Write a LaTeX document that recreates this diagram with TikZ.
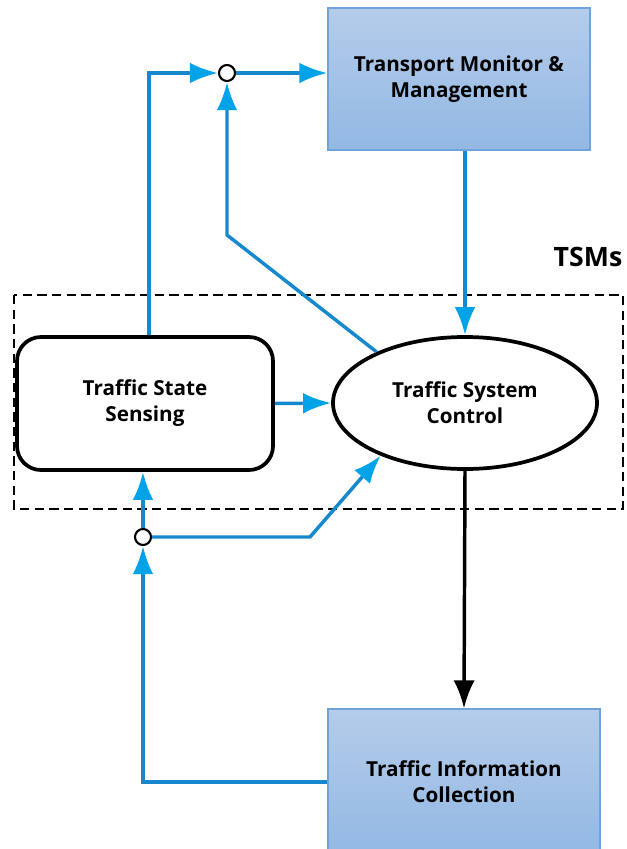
\documentclass[tikz,border=0pt]{standalone}
\usepackage[rgb]{xcolor}
\usepackage{fontspec}
\setmainfont{Open Sans}
\usetikzlibrary{arrows.meta, shapes.geometric}

\definecolor{linkblue}{RGB}{22,136,205}
\definecolor{tipblue}{RGB}{0,163,232}
\definecolor{boxtop}{RGB}{181,204,234}
\definecolor{boxbottom}{RGB}{146,184,227}
\definecolor{boxline}{RGB}{112,163,218}

\tikzset{
  bluebox/.style = {draw = boxline, line width = 1pt,
    top color = boxtop, bottom color = boxbottom,
    align = center, font = \bfseries\fontsize{15.5}{19.5}\selectfont},
  link/.style = {draw = linkblue, line width = 2.6pt,
    -{Latex[length = 21pt, width = 15.5pt, color = tipblue]}},
  blacklink/.style = {draw = black, line width = 2.6pt,
    -{Latex[length = 21pt, width = 16pt]}},
  junction/.style = {draw, circle, fill = white, line width = 1.6pt,
    minimum size = 12pt, inner sep = 0pt}
}

\begin{document}
\begin{tikzpicture}[x = 0.75pt, y = -0.75pt]

\useasboundingbox (0,0) rectangle (627,849);

% TSMs: dashed frame round sensing and control
\draw [dashed, dash pattern = on 7pt off 4pt, line width = 1.5pt]
  (14,295) rectangle (623,509);
\path
(588,257) node (tsms) {\bfseries\fontsize{20}{22}\selectfont TSMs};

%% the four blocks
\path
(459,79) node [bluebox, minimum width = 196.5pt, minimum height = 106.5pt]
  (tmm) {Transport Monitor \&\\ Management}
(464,782) node [bluebox, minimum width = 204pt, minimum height = 109.5pt]
  (tic) {Traffic Information\\ Collection}
(145,403.5) node [draw, line width = 2.8pt, rounded corners = 18pt,
  minimum width = 192pt, minimum height = 99.75pt, align = center,
  font = \bfseries\fontsize{15.5}{19.5}\selectfont]
  (tss) {Traffic State\\ Sensing}
(465,403) node [draw, ellipse, line width = 2.8pt, inner sep = 0pt,
  minimum width = 198pt, minimum height = 99pt, align = center,
  font = \bfseries\fontsize{15.5}{19.5}\selectfont]
  (tsc) {Traffic System\\ Control};

%% summing points and bends
\path
(227,73) node [junction] (jtop) {}
(143,537) node [junction] (jbottom) {};
\coordinate (bendup) at (227,235);
\coordinate (benddown) at (310,537);

%% blue links
\draw [link] ([xshift = 3pt]tss.north) |- (jtop);
\draw [link] (jtop) -- (jtop -| tmm.west);
\draw [link] (tsc.150) -- (bendup) -- (jtop);
\draw [link] (tsc.north |- tmm.south) -- (tsc.north);
\draw [link] (tss.east) -- (tsc.west);
\draw [link] (tic.west) -| (jbottom);
\draw [link] (jbottom) -- (jbottom |- tss.south);
\draw [link] (jbottom) -- (benddown) -- (tsc.212);

%% control to collection
\draw [blacklink] (tsc.south) -- (tic.north);

\end{tikzpicture}
\end{document}
